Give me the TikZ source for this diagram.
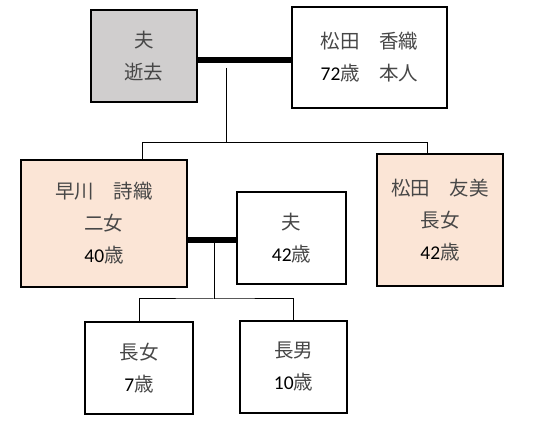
\documentclass[tikz,border=0pt]{standalone}
\usepackage{fontspec}
\setmainfont{Carlito}
\newfontfamily\jpfont{Noto Sans CJK JP}
\newcommand{\jp}[1]{{\jpfont\color{black!72}#1}}
\usepackage{xcolor}
\definecolor{deadgray}{HTML}{D0CECE}
\definecolor{daughterpeach}{HTML}{FBE5D6}
\usepackage{tikz}
\usetikzlibrary{positioning, calc}

\begin{document}
\begin{tikzpicture}[x=1pt, y=-1pt,
  person/.style={rectangle, draw=black, line width=1.5pt, fill=white,
    align=center, inner sep=0pt, font=\fontsize{19.5}{32}\selectfont},
  link/.style={draw=black, line width=1pt},
  marriage/.style={draw=black, line width=6pt}
]
\useasboundingbox (0,0) rectangle (550,427);

% first generation
\node[person, fill=deadgray, minimum width=106pt, minimum height=92pt] (husband) at (144,56)
  {\jp{夫}\\\jp{逝去}};
\node[person, minimum width=155pt, minimum height=101pt] (self) at (369.5,57.5)
  {\jp{松田　香織}\\72\jp{歳}\jp{　本人}};

% children
\node[person, fill=daughterpeach, minimum width=166pt, minimum height=127pt] (shiori) at (104,223.5)
  {\jp{早川　詩織}\\\jp{二女}\\40\jp{歳}};
\node[person, fill=daughterpeach, minimum width=126pt, minimum height=132pt] (tomomi) at (440,220)
  {\jp{松田　友美}\\\jp{長女}\\42\jp{歳}};
\node[person, minimum width=109pt, minimum height=92pt] (sonlaw) at (291.5,238)
  {\jp{夫}\\42\jp{歳}};

% grandchildren
\node[person, minimum width=108pt, minimum height=92pt] (granddaughter) at (139,368)
  {\jp{長女}\\7\jp{歳}};
\node[person, minimum width=107pt, minimum height=92pt] (grandson) at (293.5,367)
  {\jp{長男}\\10\jp{歳}};

\coordinate (wed1) at (226,60);
\coordinate (stem1) at (226,68);
\coordinate (kids1) at (226,143);
\coordinate (dropL) at (142,143);
\coordinate (dropR) at (427,143);
\coordinate (wed2) at (214,240);
\coordinate (kids2) at (214,299);

\draw[marriage] (husband.east |- wed1) -- (self.west |- wed1);
\draw[link] (stem1) -- (kids1);
\draw[link] (shiori.north -| dropL) -- (dropL) -- (dropR) -- (tomomi.north -| dropR);

\draw[marriage] (shiori.east |- wed2) -- (sonlaw.west |- wed2);
\draw[link] (wed2) -- (kids2);
\draw[link] (granddaughter.north) |- (kids2) -| (grandson.north);
\end{tikzpicture}
\end{document}
